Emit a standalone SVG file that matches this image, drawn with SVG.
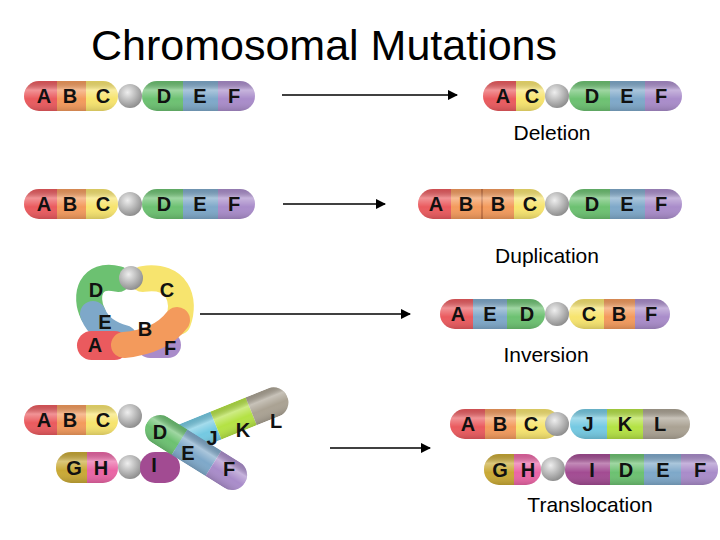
<svg xmlns="http://www.w3.org/2000/svg" width="720" height="540" viewBox="0 0 720 540">
<defs>
<linearGradient id="gl" x1="0" y1="0" x2="0" y2="1"><stop offset="0" stop-color="#000" stop-opacity="0.12"/><stop offset="0.3" stop-color="#fff" stop-opacity="0.35"/><stop offset="0.6" stop-color="#fff" stop-opacity="0"/><stop offset="1" stop-color="#000" stop-opacity="0.15"/></linearGradient>
<radialGradient id="cg" cx="0.4" cy="0.35" r="0.7"><stop offset="0" stop-color="#eee"/><stop offset="1" stop-color="#888"/></radialGradient>
<marker id="ar" viewBox="0 0 10 10" refX="9" refY="5" markerWidth="7" markerHeight="7" orient="auto"><path d="M0,0L10,5L0,10z" fill="#000"/></marker>
</defs>
<style>
.t{font-family:"Liberation Sans",Arial,sans-serif;font-weight:bold;font-size:20px;text-anchor:middle;fill:#111}
.l{font-family:"Liberation Sans",Arial,sans-serif;font-size:21px;text-anchor:middle;fill:#000}
.a{stroke:#000;stroke-width:1.5;fill:none;marker-end:url(#ar)}
.cen{fill:url(#cg)}
.A{fill:#ea5a5e}.B{fill:#f39a5c}.C{fill:#f7e46e}.D{fill:#6cc171}.E{fill:#7ea8c9}.F{fill:#a98cca}
.G{fill:#c9a935}.H{fill:#ea65a5}.I{fill:#a24b92}.J{fill:#74c9e2}.K{fill:#b4e244}.L{fill:#aaa293}
.sA{stroke:#ea5a5e}.sB{stroke:#f39a5c}.sC{stroke:#f7e46e}.sD{stroke:#6cc171}.sE{stroke:#7ea8c9}.sF{stroke:#a98cca}
.s{fill:none;stroke-width:26;stroke-linecap:round}
</style>
<text x="324" y="60" font-family="Liberation Sans,Arial,sans-serif" font-size="43" text-anchor="middle">Chromosomal Mutations</text>

<g id="connectors">
<line class="a" x1="282" y1="95" x2="457" y2="95"/>
<line class="a" x1="283" y1="204" x2="385" y2="204"/>
<line class="a" x1="200" y1="314" x2="410" y2="314"/>
<line class="a" x1="330" y1="448" x2="430" y2="448"/>
</g>

<g id="orig1">
<clipPath id="c1a"><rect x="24" y="81" width="94" height="30" rx="15"/></clipPath>
<g clip-path="url(#c1a)"><rect class="A" x="24" y="81" width="33" height="30"/><rect class="B" x="57" y="81" width="29" height="30"/><rect class="C" x="86" y="81" width="32" height="30"/><rect fill="url(#gl)" x="24" y="81" width="94" height="30"/></g>
<circle class="cen" cx="130" cy="96" r="12"/>
<clipPath id="c1b"><rect x="142" y="81" width="113" height="30" rx="15"/></clipPath>
<g clip-path="url(#c1b)"><rect class="D" x="142" y="81" width="41" height="30"/><rect class="E" x="183" y="81" width="35" height="30"/><rect class="F" x="218" y="81" width="37" height="30"/><rect fill="url(#gl)" x="142" y="81" width="113" height="30"/></g>
<text class="t" x="44" y="103">A</text><text class="t" x="70" y="103">B</text><text class="t" x="103" y="103">C</text>
<text class="t" x="164" y="103">D</text><text class="t" x="200" y="103">E</text><text class="t" x="234" y="103">F</text>
</g>

<g id="deletion">
<clipPath id="c2a"><rect x="483" y="81" width="62" height="30" rx="15"/></clipPath>
<g clip-path="url(#c2a)"><rect class="A" x="483" y="81" width="33" height="30"/><rect class="C" x="516" y="81" width="29" height="30"/><rect fill="url(#gl)" x="483" y="81" width="62" height="30"/></g>
<circle class="cen" cx="557" cy="96" r="12"/>
<clipPath id="c2b"><rect x="569" y="81" width="113" height="30" rx="15"/></clipPath>
<g clip-path="url(#c2b)"><rect class="D" x="569" y="81" width="41" height="30"/><rect class="E" x="610" y="81" width="35" height="30"/><rect class="F" x="645" y="81" width="37" height="30"/><rect fill="url(#gl)" x="569" y="81" width="113" height="30"/></g>
<text class="t" x="503" y="103">A</text><text class="t" x="532" y="103">C</text>
<text class="t" x="592" y="103">D</text><text class="t" x="627" y="103">E</text><text class="t" x="661" y="103">F</text>
<text class="l" x="552" y="140">Deletion</text>
</g>

<g id="orig2">
<clipPath id="c3a"><rect x="24" y="189" width="94" height="30" rx="15"/></clipPath>
<g clip-path="url(#c3a)"><rect class="A" x="24" y="189" width="33" height="30"/><rect class="B" x="57" y="189" width="29" height="30"/><rect class="C" x="86" y="189" width="32" height="30"/><rect fill="url(#gl)" x="24" y="189" width="94" height="30"/></g>
<circle class="cen" cx="130" cy="204" r="12"/>
<clipPath id="c3b"><rect x="142" y="189" width="113" height="30" rx="15"/></clipPath>
<g clip-path="url(#c3b)"><rect class="D" x="142" y="189" width="41" height="30"/><rect class="E" x="183" y="189" width="35" height="30"/><rect class="F" x="218" y="189" width="37" height="30"/><rect fill="url(#gl)" x="142" y="189" width="113" height="30"/></g>
<text class="t" x="44" y="211">A</text><text class="t" x="70" y="211">B</text><text class="t" x="103" y="211">C</text>
<text class="t" x="164" y="211">D</text><text class="t" x="200" y="211">E</text><text class="t" x="234" y="211">F</text>
</g>

<g id="duplication">
<clipPath id="c4a"><rect x="418" y="189" width="127" height="30" rx="15"/></clipPath>
<g clip-path="url(#c4a)"><rect class="A" x="418" y="189" width="33" height="30"/><rect class="B" x="451" y="189" width="31" height="30"/><rect class="B" x="482" y="189" width="32" height="30"/><rect x="481.5" y="189" width="1" height="30" fill="#a0502a"/><rect class="C" x="514" y="189" width="31" height="30"/><rect fill="url(#gl)" x="418" y="189" width="127" height="30"/></g>
<circle class="cen" cx="557" cy="204" r="12"/>
<clipPath id="c4b"><rect x="569" y="189" width="113" height="30" rx="15"/></clipPath>
<g clip-path="url(#c4b)"><rect class="D" x="569" y="189" width="41" height="30"/><rect class="E" x="610" y="189" width="35" height="30"/><rect class="F" x="645" y="189" width="37" height="30"/><rect fill="url(#gl)" x="569" y="189" width="113" height="30"/></g>
<text class="t" x="436" y="211">A</text><text class="t" x="466" y="211">B</text><text class="t" x="498" y="211">B</text><text class="t" x="530" y="211">C</text>
<text class="t" x="592" y="211">D</text><text class="t" x="627" y="211">E</text><text class="t" x="661" y="211">F</text>
<text class="l" x="547" y="263">Duplication</text>
</g>

<g id="loop">
<path class="s sF" d="M150,345 L168,345"/>
<path class="s sC" d="M143,279 C178,274 186,300 178,322"/>
<path class="s sD" d="M118,279 C90,272 84,296 93,314"/>
<path class="s sE" d="M93,314 C98,326 108,334 124,338"/>
<rect class="A" x="77" y="331" width="52" height="29" rx="14.5"/>
<path class="s sB" d="M124,345 C145,343 165,336 177,320" stroke-linecap="butt"/>
<circle class="cen" cx="131" cy="278" r="12"/>
<text class="t" x="96" y="297">D</text><text class="t" x="167" y="297">C</text><text class="t" x="105" y="329">E</text><text class="t" x="145" y="336">B</text><text class="t" x="95" y="352">A</text><text class="t" x="170" y="355">F</text>
</g>

<g id="inversion">
<clipPath id="c5a"><rect x="440" y="299" width="105" height="30" rx="15"/></clipPath>
<g clip-path="url(#c5a)"><rect class="A" x="440" y="299" width="33" height="30"/><rect class="E" x="473" y="299" width="34" height="30"/><rect class="D" x="507" y="299" width="38" height="30"/><rect fill="url(#gl)" x="440" y="299" width="105" height="30"/></g>
<circle class="cen" cx="557" cy="314" r="12"/>
<clipPath id="c5b"><rect x="569" y="299" width="101" height="30" rx="15"/></clipPath>
<g clip-path="url(#c5b)"><rect class="C" x="569" y="299" width="35" height="30"/><rect class="B" x="604" y="299" width="31" height="30"/><rect class="F" x="635" y="299" width="35" height="30"/><rect fill="url(#gl)" x="569" y="299" width="101" height="30"/></g>
<text class="t" x="458" y="321">A</text><text class="t" x="490" y="321">E</text><text class="t" x="527" y="321">D</text>
<text class="t" x="589" y="321">C</text><text class="t" x="619" y="321">B</text><text class="t" x="651" y="321">F</text>
<text class="l" x="546" y="362">Inversion</text>
</g>

<g id="orig4">
<clipPath id="c6a"><rect x="24" y="405" width="94" height="30" rx="15"/></clipPath>
<g clip-path="url(#c6a)"><rect class="A" x="24" y="405" width="33" height="30"/><rect class="B" x="57" y="405" width="29" height="30"/><rect class="C" x="86" y="405" width="32" height="30"/><rect fill="url(#gl)" x="24" y="405" width="94" height="30"/></g>
<circle class="cen" cx="130" cy="416" r="12"/>
<clipPath id="c6b"><rect x="56" y="452" width="62" height="31" rx="15"/></clipPath>
<g clip-path="url(#c6b)"><rect class="G" x="56" y="452" width="31" height="31"/><rect class="H" x="87" y="452" width="31" height="31"/><rect fill="url(#gl)" x="56" y="452" width="62" height="31"/></g>
<circle class="cen" cx="130" cy="467" r="12"/>
<rect class="I" x="140" y="452" width="40" height="31" rx="15"/>
<g transform="translate(190,436) rotate(-22)">
<clipPath id="c6c"><rect x="-20" y="-15" width="125" height="30" rx="15"/></clipPath>
<g clip-path="url(#c6c)"><rect class="J" x="-20" y="-15" width="48" height="30"/><rect class="K" x="28" y="-15" width="38" height="30"/><rect class="L" x="66" y="-15" width="39" height="30"/><rect fill="url(#gl)" x="-20" y="-15" width="125" height="30"/></g>
</g>
<g transform="translate(160,430) rotate(32)">
<clipPath id="c6d"><rect x="-15" y="-15" width="115" height="30" rx="15"/></clipPath>
<g clip-path="url(#c6d)"><rect class="D" x="-15" y="-15" width="38" height="30"/><rect class="E" x="23" y="-15" width="40" height="30"/><rect class="F" x="63" y="-15" width="37" height="30"/><rect fill="url(#gl)" x="-15" y="-15" width="115" height="30"/></g>
</g>
<text class="t" x="44" y="427">A</text><text class="t" x="70" y="427">B</text><text class="t" x="103" y="427">C</text>
<text class="t" x="74" y="475">G</text><text class="t" x="101" y="475">H</text>
<text class="t" x="154" y="472">I</text><text class="t" x="160" y="439">D</text><text class="t" x="188" y="460">E</text><text class="t" x="229" y="476">F</text>
<text class="t" x="212" y="445">J</text><text class="t" x="243" y="437">K</text><text class="t" x="276" y="428">L</text>
</g>

<g id="translocation">
<clipPath id="c7a"><rect x="450" y="409" width="110" height="30" rx="15"/></clipPath>
<g clip-path="url(#c7a)"><rect class="A" x="450" y="409" width="35" height="30"/><rect class="B" x="485" y="409" width="31" height="30"/><rect class="C" x="516" y="409" width="44" height="30"/><rect fill="url(#gl)" x="450" y="409" width="110" height="30"/></g>
<circle class="cen" cx="557" cy="424" r="12"/>
<clipPath id="c7b"><rect x="570" y="409" width="120" height="30" rx="15"/></clipPath>
<g clip-path="url(#c7b)"><rect class="J" x="570" y="409" width="37" height="30"/><rect class="K" x="607" y="409" width="36" height="30"/><rect class="L" x="643" y="409" width="47" height="30"/><rect fill="url(#gl)" x="570" y="409" width="120" height="30"/></g>
<text class="t" x="468" y="431">A</text><text class="t" x="500" y="431">B</text><text class="t" x="531" y="431">C</text>
<text class="t" x="588" y="431">J</text><text class="t" x="625" y="431">K</text><text class="t" x="660" y="431">L</text>
<clipPath id="c7c"><rect x="484" y="454" width="57" height="31" rx="15"/></clipPath>
<g clip-path="url(#c7c)"><rect class="G" x="484" y="454" width="30" height="31"/><rect class="H" x="514" y="454" width="27" height="31"/><rect fill="url(#gl)" x="484" y="454" width="57" height="31"/></g>
<circle class="cen" cx="553" cy="469" r="12"/>
<clipPath id="c7d"><rect x="565" y="454" width="153" height="31" rx="15"/></clipPath>
<g clip-path="url(#c7d)"><rect class="I" x="565" y="454" width="45" height="31"/><rect class="D" x="610" y="454" width="34" height="31"/><rect class="E" x="644" y="454" width="37" height="31"/><rect class="F" x="681" y="454" width="37" height="31"/><rect fill="url(#gl)" x="565" y="454" width="153" height="31"/></g>
<text class="t" x="500" y="477">G</text><text class="t" x="528" y="477">H</text>
<text class="t" x="592" y="477">I</text><text class="t" x="626" y="477">D</text><text class="t" x="663" y="477">E</text><text class="t" x="700" y="477">F</text>
<text class="l" x="590" y="512">Translocation</text>
</g>
</svg>
